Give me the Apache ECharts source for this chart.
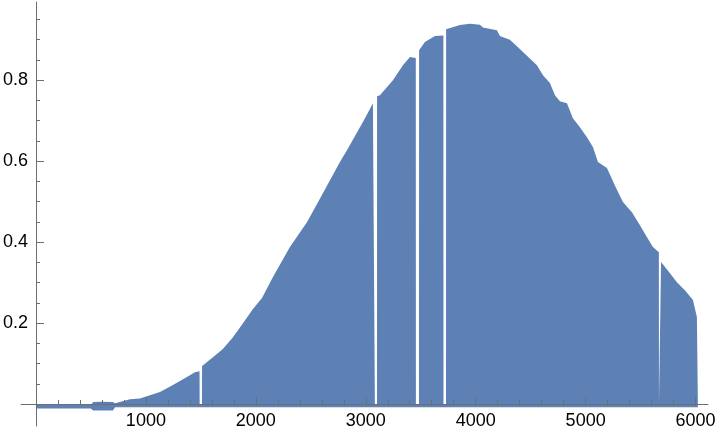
<!DOCTYPE html>
<html>
<head>
<meta charset="utf-8">
<script src="https://cdn.jsdelivr.net/npm/echarts@6/dist/echarts.min.js"></script>
<style>
  html, body { margin: 0; padding: 0; background: #fff; }
  #chart { width: 720px; height: 440px; }
</style>
</head>
<body>
<div id="chart"></div>
<script>
// upper envelope of the oscillation, gaps drop to 0
const upperX = [0, 500, 520, 600, 700, 720, 737, 855, 946, 1037, 1128, 1246, 1373, 1446, 1488,
  1489, 1510, 1511, 1610, 1700, 1792, 1883, 1974, 2056, 2156, 2310, 2465, 2610, 2765, 2829,
  2947, 2993, 3065, 3082, 3083, 3102, 3103, 3129, 3247, 3338, 3402, 3455, 3456, 3484, 3485,
  3538, 3629, 3706, 3707, 3730, 3731, 3857, 3948, 4039, 4066, 4193, 4220, 4311, 4375, 4466,
  4557, 4612, 4675, 4721, 4766, 4830, 4884, 4948, 5012, 5066, 5112, 5194, 5266, 5339, 5421,
  5494, 5558, 5612, 5666, 5667, 5685, 5686, 5767, 5830, 5903, 5976, 6012, 6021];
const upperY = [-0.002, -0.002, 0.005, 0.006, 0.005, 0.002, 0.002, 0.012, 0.014, 0.022, 0.03, 0.047, 0.067, 0.079, 0.081,
  0, 0, 0.094, 0.116, 0.136, 0.165, 0.2, 0.235, 0.262, 0.314, 0.388, 0.449, 0.521, 0.598, 0.627,
  0.684, 0.706, 0.743, 0.745, 0, 0, 0.76, 0.763, 0.8, 0.837, 0.857, 0.855, 0, 0, 0.874,
  0.894, 0.909, 0.91, 0, 0, 0.926, 0.936, 0.939, 0.937, 0.93, 0.923, 0.909, 0.9, 0.884, 0.86,
  0.837, 0.812, 0.793, 0.763, 0.748, 0.743, 0.706, 0.684, 0.659, 0.635, 0.598, 0.583, 0.54, 0.499, 0.474,
  0.442, 0.412, 0.388, 0.375, 0, 0, 0.351, 0.323, 0.301, 0.281, 0.257, 0.215, 0.215];

// lower envelope, just under the zero line
const lowerX = [0, 500, 520, 700, 720, 6021];
const lowerY = [-0.011, -0.011, -0.016, -0.016, -0.008, -0.008];

const xMajorTicks = [1000, 2000, 3000, 4000, 5000, 6000];
const xMinorTicks = [200, 400, 600, 800, 1200, 1400, 1600, 1800, 2200, 2400, 2600, 2800,
  3200, 3400, 3600, 3800, 4200, 4400, 4600, 4800, 5200, 5400, 5600, 5800];
const yMajorTicks = [0.2, 0.4, 0.6, 0.8];
const yMinorTicks = [0.05, 0.1, 0.15, 0.25, 0.3, 0.35, 0.45, 0.5, 0.55, 0.65, 0.7, 0.75, 0.85, 0.9, 0.95];

const fill = '#5e81b5';
const axisColor = '#6e6e6e';
const X_MIN = -136, X_MAX = 6113, Y_MIN = -0.054, Y_MAX = 0.993;

const upperData = upperX.map((x, i) => [x, upperY[i]]);
const lowerData = lowerX.map((x, i) => [x, lowerY[i]]);

const labelFont = { fontFamily: 'Liberation Sans', fontSize: 18, color: '#000' };

// grid edges are at px 21 (left) and py 426 (bottom); the axes cross at x=0 / y=0,
// which sit 15px right of the left edge and 22px above the bottom edge
const chart = echarts.init(document.getElementById('chart'), null, { renderer: 'canvas' });
const option = {
  animation: false,
  grid: { left: 21, right: 12, top: 2, bottom: 14, containLabel: false, outerBoundsMode: 'none' },
  xAxis: [
    {
      type: 'value', min: X_MIN, max: X_MAX, position: 'bottom', offset: -22, z: 5,
      axisLine: { show: true, onZero: false, lineStyle: { color: axisColor, width: 1 } },
      axisTick: { show: true, inside: true, length: 7, customValues: xMajorTicks, lineStyle: { color: axisColor } },
      axisLabel: { customValues: xMajorTicks, margin: 8, formatter: v => String(v), ...labelFont },
      splitLine: { show: false }
    },
    {
      type: 'value', min: X_MIN, max: X_MAX, position: 'bottom', offset: -22, z: 5,
      axisLine: { show: false, onZero: false },
      axisTick: { show: true, inside: true, length: 4, customValues: xMinorTicks, lineStyle: { color: axisColor } },
      axisLabel: { show: false },
      splitLine: { show: false }
    }
  ],
  yAxis: [
    {
      type: 'value', min: Y_MIN, max: Y_MAX, position: 'left', offset: -15, z: 5,
      axisLine: { show: true, onZero: false, lineStyle: { color: axisColor, width: 1 } },
      axisTick: { show: true, inside: true, length: 8, customValues: yMajorTicks, lineStyle: { color: axisColor } },
      axisLabel: { customValues: yMajorTicks, margin: 8, formatter: v => String(v), ...labelFont },
      splitLine: { show: false }
    },
    {
      type: 'value', min: Y_MIN, max: Y_MAX, position: 'left', offset: -15, z: 5,
      axisLine: { show: false, onZero: false },
      axisTick: { show: true, inside: true, length: 4, customValues: yMinorTicks, lineStyle: { color: axisColor } },
      axisLabel: { show: false },
      splitLine: { show: false }
    }
  ],
  series: [
    {
      name: 'upper', type: 'line', xAxisIndex: 0, yAxisIndex: 0,
      symbol: 'none', data: upperData,
      lineStyle: { width: 0 },
      areaStyle: { color: fill, opacity: 1, origin: 0 },
      z: 2
    },
    {
      name: 'lower', type: 'line', xAxisIndex: 0, yAxisIndex: 0,
      symbol: 'none', data: lowerData,
      lineStyle: { width: 0 },
      areaStyle: { color: fill, opacity: 1, origin: 0 },
      z: 2
    }
  ]
};
chart.setOption(option);
</script>
</body>
</html>
